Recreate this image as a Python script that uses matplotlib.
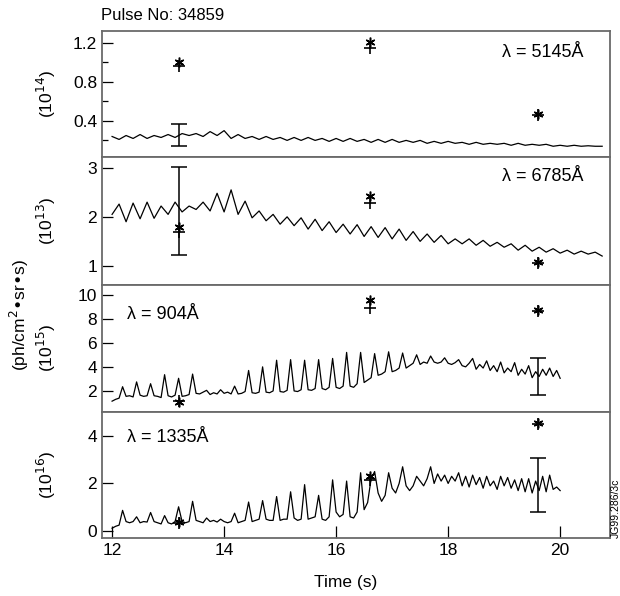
import matplotlib.pyplot as plt
import numpy as np

plt.rcParams['font.family'] = ['Liberation Sans', 'DejaVu Sans']

# measurement times and values (asterisk / plus) for each line
t_meas = [13.2, 16.6, 19.6]
star_5145 = [1.005, 1.21, 0.47]
plus_5145 = [0.96, 1.15, 0.455]
star_6785 = [1.8, 2.43, 1.08]
plus_6785 = [1.7, 2.29, 1.05]
star_904 = [1.1, 9.55, 8.75]
plus_904 = [1.2, 8.9, 8.6]
star_1335 = [0.37, 2.33, 4.54]
plus_1335 = [0.33, 2.15, 4.5]

# error bars: (time, centre, half-width)
err_5145 = (13.2, 0.255, 0.115)
err_6785 = (13.2, 2.12, 0.9)
err_904 = (19.6, 3.2, 1.53)
err_1335 = (19.6, 1.92, 1.13)

# visible-line traces, 0.125 s sampling from 12.0 s
trace_5145 = [0.24, 0.21, 0.25, 0.22, 0.26, 0.22, 0.25, 0.23, 0.26, 0.23,
              0.27, 0.25, 0.27, 0.24, 0.29, 0.25, 0.30, 0.22, 0.26, 0.22,
              0.24, 0.21, 0.24, 0.21, 0.23, 0.20, 0.23, 0.20, 0.23, 0.20,
              0.22, 0.19, 0.22, 0.19, 0.22, 0.19, 0.21, 0.18, 0.21, 0.18,
              0.21, 0.18, 0.20, 0.18, 0.20, 0.17, 0.19, 0.17, 0.19, 0.17,
              0.18, 0.16, 0.18, 0.16, 0.17, 0.16, 0.17, 0.15, 0.17, 0.15,
              0.16, 0.15, 0.16, 0.14, 0.15, 0.14, 0.15, 0.14, 0.145, 0.14,
              0.14]
trace_6785 = [2.05, 2.26, 1.90, 2.28, 1.96, 2.30, 1.97, 2.22, 2.05, 2.30,
              2.10, 2.22, 2.15, 2.30, 2.12, 2.48, 2.10, 2.55, 2.05, 2.32,
              1.98, 2.12, 1.92, 2.05, 1.85, 2.00, 1.82, 1.98, 1.75, 1.95,
              1.72, 1.90, 1.68, 1.85, 1.65, 1.84, 1.60, 1.80, 1.58, 1.78,
              1.55, 1.75, 1.52, 1.70, 1.50, 1.65, 1.48, 1.62, 1.45, 1.55,
              1.45, 1.55, 1.42, 1.52, 1.40, 1.48, 1.38, 1.45, 1.32, 1.42,
              1.30, 1.38, 1.28, 1.35, 1.26, 1.32, 1.24, 1.30, 1.24, 1.28,
              1.20]

# VUV traces, 0.0625 s sampling from 12.0 s to 20.0 s
trace_904 = [1.15, 1.30, 1.40, 2.35, 1.55, 1.60, 1.50, 2.75, 1.65, 1.55,
             1.60, 2.60, 1.60, 1.55, 1.45, 3.35, 1.60, 1.50, 1.65, 3.05,
             1.55, 1.60, 1.70, 3.40, 1.80, 1.75, 1.90, 2.05, 1.70, 1.85,
             1.75, 2.10, 1.80, 1.90, 1.75, 2.40, 1.75, 1.80, 1.95, 3.70,
             1.85, 1.80, 1.90, 4.00, 1.90, 1.85, 2.00, 4.55, 1.95, 1.90,
             2.05, 4.60, 2.00, 1.95, 2.10, 4.55, 2.10, 2.05, 2.20, 4.60,
             2.20, 2.10, 2.30, 4.70, 2.30, 2.20, 2.40, 5.20, 2.40, 2.30,
             2.60, 5.20, 2.70, 2.90, 3.10, 5.10, 3.30, 3.40, 3.60, 5.25,
             3.60, 3.70, 3.90, 5.15, 3.90, 4.10, 4.30, 5.00, 4.20, 4.40,
             4.30, 4.90, 4.40, 4.30, 4.40, 4.75, 4.30, 4.20, 4.35, 4.60,
             4.10, 4.00, 4.30, 4.70, 3.80, 4.20, 3.90, 4.50, 3.70, 4.10,
             3.60, 4.40, 3.50, 3.90, 3.60, 4.35, 3.30, 3.80, 3.40, 4.10,
             3.10, 3.60, 3.20, 3.80, 3.30, 3.90, 3.20, 3.70, 3.05]
trace_1335 = [0.12, 0.20, 0.25, 0.87, 0.40, 0.35, 0.40, 0.60, 0.35, 0.40,
              0.38, 0.78, 0.40, 0.35, 0.30, 0.65, 0.35, 0.30, 0.40, 1.02,
              0.40, 0.35, 0.40, 1.25, 0.45, 0.40, 0.35, 0.55, 0.40, 0.45,
              0.38, 0.50, 0.40, 0.35, 0.40, 0.75, 0.35, 0.40, 0.45, 1.22,
              0.40, 0.45, 0.50, 1.28, 0.50, 0.45, 0.45, 1.45, 0.45, 0.50,
              0.50, 1.65, 0.55, 0.45, 0.50, 1.95, 0.50, 0.55, 0.60, 1.50,
              0.50, 0.45, 0.60, 2.15, 0.80, 0.60, 0.70, 2.10, 0.60, 0.55,
              0.80, 2.45, 0.90, 1.20, 2.20, 2.50, 1.60, 1.25, 1.50, 2.45,
              1.80, 1.60, 2.00, 2.70, 1.90, 1.70, 1.90, 2.30, 2.10, 1.90,
              2.20, 2.70, 2.00, 2.40, 2.10, 2.35, 2.00, 2.30, 2.10, 2.45,
              1.90, 2.30, 1.85, 2.35, 1.95, 2.25, 1.80, 2.30, 1.90, 2.10,
              1.75, 2.30, 1.90, 2.25, 1.80, 2.15, 1.70, 2.20, 1.65, 2.20,
              1.60, 2.10, 1.70, 2.30, 1.65, 2.35, 1.75, 1.85, 1.70]

t_slow = np.linspace(12.0, 20.75, len(trace_6785))
t_fast = np.linspace(12.0, 20.0, len(trace_904))

panels = [
    dict(t=t_slow, y=trace_5145, star=star_5145, plus=plus_5145, err=err_5145,
         ylim=(0.03, 1.32), major=[0.4, 0.8, 1.2], minor=[0.2, 0.6, 1.0],
         unit='(10$^{14}$)', lam='\u03bb = 5145\u00c5', lampos=(0.947, 0.83, 'right')),
    dict(t=t_slow, y=trace_6785, star=star_6785, plus=plus_6785, err=err_6785,
         ylim=(0.61, 3.22), major=[1, 2, 3], minor=[],
         unit='(10$^{13}$)', lam='\u03bb = 6785\u00c5', lampos=(0.947, 0.85, 'right')),
    dict(t=t_fast, y=trace_904, star=star_904, plus=plus_904, err=err_904,
         ylim=(0.25, 10.8), major=[2, 4, 6, 8, 10], minor=[],
         unit='(10$^{15}$)', lam='\u03bb = 904\u00c5', lampos=(0.05, 0.77, 'left')),
    dict(t=t_fast, y=trace_1335, star=star_1335, plus=plus_1335, err=err_1335,
         ylim=(-0.29, 5.0), major=[0, 2, 4], minor=[],
         unit='(10$^{16}$)', lam='\u03bb = 1335\u00c5', lampos=(0.05, 0.80, 'left')),
]

W, H = 620, 596
fig = plt.figure(figsize=(W / 100, H / 100), dpi=100)

left, right = 102, 610
edges = [31, 157, 285, 412, 538]
spine_col = '#6a6a6a'
asterisk = (6, 2, 0)

axes = []
for i, p in enumerate(panels):
    top, bot = edges[i], edges[i + 1]
    ax = fig.add_axes([left / W, 1 - bot / H, (right - left) / W, (bot - top) / H])
    axes.append(ax)
    ax.plot(p['t'], p['y'], color='black', lw=0.9)
    te, ce, ee = p['err']
    ax.errorbar([te], [ce], yerr=[ee], fmt='none', ecolor='black', elinewidth=1.1,
                capsize=6, capthick=1.1)
    ax.plot(t_meas, p['plus'], ls='none', marker='+', ms=9, mew=1.2, color='black')
    ax.plot(t_meas, p['star'], ls='none', marker=asterisk, ms=7, mew=1.1, color='black')
    ax.set_xlim(11.82, 20.89)
    ax.set_ylim(*p['ylim'])
    ax.set_yticks(p['major'])
    ax.set_yticks(p['minor'], minor=True)
    ax.set_yticklabels([('%g' % v) for v in p['major']])
    ax.tick_params(axis='y', which='major', direction='in', length=8, width=0.9,
                   labelsize=12.5, pad=3.5, colors='black')
    ax.tick_params(axis='y', which='minor', direction='in', length=4.5, width=0.9)
    for s in ax.spines.values():
        s.set_color(spine_col)
        s.set_linewidth(1.3)
    x, y, ha = p['lampos']
    ax.text(x, y, p['lam'], transform=ax.transAxes, ha=ha, va='center', fontsize=13)
    fig.text(46 / W, 1 - (top + bot) / 2 / H, p['unit'], rotation=90,
             ha='center', va='center', fontsize=12.5)
    if i < 3:
        ax.tick_params(axis='x', which='both', bottom=False, labelbottom=False)

axb = axes[-1]
axb.set_xticks([12, 14, 16, 18, 20])
axb.tick_params(axis='x', direction='in', length=8.5, width=0.9, labelsize=12.5,
                pad=3.5, colors='black')

fig.text(101 / W, 1 - 16 / H, 'Pulse No: 34859', ha='left', va='center', fontsize=12)
fig.text(346 / W, 1 - 583 / H, 'Time (s)', ha='center', va='center', fontsize=12.5)
fig.text(19 / W, 1 - 315 / H, '(ph/cm$^2$\u2022sr\u2022s)', rotation=90,
         ha='center', va='center', fontsize=12.5)
fig.text(611 / W, 1 - 538 / H, 'JG99.286/3c', rotation=90, ha='left', va='bottom',
         fontsize=7.5)

fig.savefig('out.png', dpi=100)
